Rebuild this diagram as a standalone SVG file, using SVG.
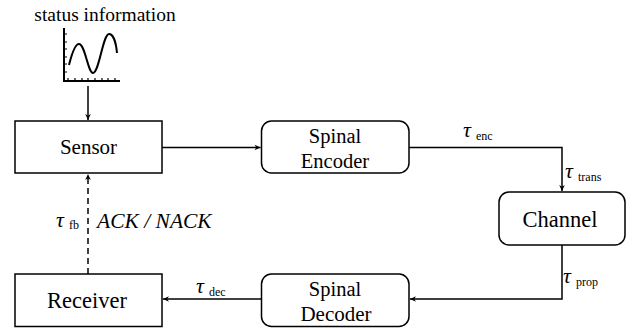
<svg xmlns="http://www.w3.org/2000/svg" width="634" height="330" viewBox="0 0 634 330">
  <defs>
    <style>
      .box { fill: #ffffff; stroke: #000000; stroke-width: 1.5; }
      .line { fill: none; stroke: #000000; stroke-width: 1.5; }
      .dash { fill: none; stroke: #000000; stroke-width: 1.5; stroke-dasharray: 6 4; }
      .lbl { font-size: 20.5px; text-anchor: middle; }
      .big { font-size: 22.5px; }
      .it { font-size: 21.5px; font-style: italic; }
      .tau { font-size: 22px; font-style: italic; }
      .sub { font-size: 12px; }
      .axis { fill: none; stroke: #000000; stroke-width: 2; }
      .tick { fill: none; stroke: #000000; stroke-width: 1.2; }
      .wave { fill: none; stroke: #000000; stroke-width: 2; }
    </style>
    <marker id="arr" viewBox="0 0 10 10" refX="9.5" refY="5" markerWidth="7" markerHeight="7" orient="auto" markerUnits="userSpaceOnUse">
      <path d="M1,1 L9.5,5 L1,9 L3.5,5 Z" fill="#000000"/>
    </marker>
  </defs>

  <g font-family="Liberation Serif, serif" fill="#000000">
  <!-- status information source -->
  <g id="status">
    <text class="lbl" x="105" y="21" style="font-size:19.5px">status information</text>
    <path class="axis" d="M64,28 V81 H120"/>
    <path class="tick" d="M64,34 h3 M64,42 h3 M64,49 h3 M64,57 h3 M64,64 h3 M64,72 h3"/>
    <path class="tick" d="M68,81 v-3 M75,81 v-3 M82,81 v-3 M88,81 v-3 M95,81 v-3 M102,81 v-3 M108,81 v-3 M115,81 v-3"/>
    <path class="wave" d="M69,65 C72,53 75,44 79,44 C85,44 88,73 93,73 C99,73 103,34 109,34 C113,34 116,42 117,53"/>
  </g>

  <g id="sensor">
    <rect class="box" x="15" y="121" width="147" height="52"/>
    <text class="lbl" x="88.5" y="154" style="font-size:21px">Sensor</text>
  </g>

  <g id="encoder">
    <rect class="box" x="261.5" y="121" width="147.5" height="52" rx="10"/>
    <text class="lbl" x="335" y="143">Spinal</text>
    <text class="lbl" x="335" y="168">Encoder</text>
  </g>

  <g id="channel">
    <rect class="box" x="499" y="192" width="126" height="53" rx="10"/>
    <text class="lbl big" x="560" y="227">Channel</text>
  </g>

  <g id="decoder">
    <rect class="box" x="261.5" y="274" width="147.5" height="52.5" rx="10"/>
    <text class="lbl" x="335" y="296">Spinal</text>
    <text class="lbl" x="336" y="321" style="font-size:21px">Decoder</text>
  </g>

  <g id="receiver">
    <rect class="box" x="15" y="274" width="147" height="52.5"/>
    <text class="lbl big" x="87" y="308">Receiver</text>
  </g>

  <g id="connectors">
    <line class="line" x1="88" y1="86" x2="88" y2="120" marker-end="url(#arr)"/>
    <line class="line" x1="162" y1="147.5" x2="260.5" y2="147.5" marker-end="url(#arr)"/>
    <polyline class="line" points="409,147.5 562,147.5 562,191" marker-end="url(#arr)"/>
    <polyline class="line" points="562,245 562,299 410,299" marker-end="url(#arr)"/>
    <line class="line" x1="261.5" y1="299" x2="163" y2="299" marker-end="url(#arr)"/>
    <line class="dash" x1="88" y1="274" x2="88" y2="174" marker-end="url(#arr)"/>

    <text class="tau" x="463" y="137">τ</text><text class="sub" x="476" y="140">enc</text>
    <text class="tau" x="565" y="178">τ</text><text class="sub" x="578" y="181">trans</text>
    <text class="tau" x="563" y="283">τ</text><text class="sub" x="576" y="286">prop</text>
    <text class="tau" x="196" y="293">τ</text><text class="sub" x="209" y="296">dec</text>
    <text class="tau" x="56" y="227">τ</text><text class="sub" x="69" y="229">fb</text>
    <text class="it" x="97" y="228">ACK / NACK</text>
  </g>
  </g>
</svg>
